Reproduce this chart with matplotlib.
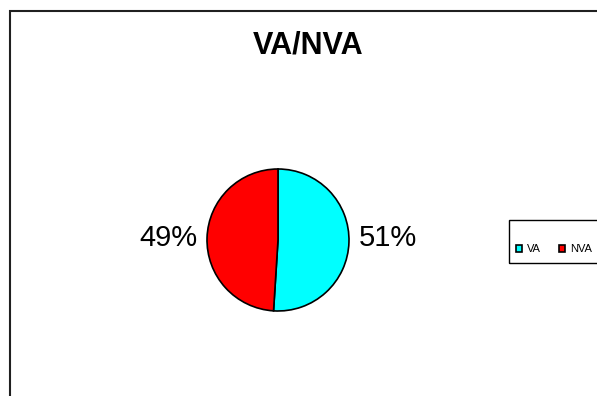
import matplotlib
matplotlib.use("Agg")
import matplotlib.pyplot as plt
from matplotlib.patches import Rectangle

plt.rcParams['font.family'] = ['Liberation Sans', 'DejaVu Sans']

TITEL = "VA/NVA"
KATEGORIEN = ["VA", "NVA"]
WERTE = [51, 49]
FARBEN = ["#00FFFF", "#FF0000"]

W, H = 597, 396
fig = plt.figure(figsize=(W / 100, H / 100), dpi=100)

# Rahmen (nur oben und links sichtbar)
fig.add_artist(Rectangle((9.5 / W, -0.2), 2, 1.2 - 10.5 / H, transform=fig.transFigure,
                         fill=False, edgecolor="#202020", linewidth=1.5))

# Titel
fig.text(308 / W, 1 - 45 / H, TITEL, ha="center", va="center",
         fontsize=22, fontweight="bold")

# Kreisdiagramm
r = 71
ax = fig.add_axes([(278 - r) / W, 1 - (240 + r) / H, 2 * r / W, 2 * r / H])
wedges, texts, autotexts = ax.pie(
    WERTE, colors=FARBEN, startangle=90, counterclock=False,
    autopct="%1.0f%%", pctdistance=1.55,
    wedgeprops=dict(edgecolor="black", linewidth=1.2),
    textprops=dict(fontsize=21),
)
# Beschriftungen auf gleicher Höhe wie im Original
for t in autotexts:
    t.set_y(0.03)
ax.set_xlim(-1, 1)
ax.set_ylim(-1, 1)
ax.set_aspect("equal")
ax.axis("off")

# Legende
fig.add_artist(Rectangle((508.5 / W, 1 - 263 / H), 1, 43 / H, transform=fig.transFigure,
                         fill=False, edgecolor="black", linewidth=1.0))
fig.legend(wedges, KATEGORIEN, loc="center left", bbox_to_anchor=(516 / W, 1 - 249.5 / H),
           ncol=2, frameon=False, fontsize=8, handlelength=0.5, handleheight=0.5,
           handletextpad=0.45, columnspacing=1.7, borderpad=0, borderaxespad=0)

fig.savefig("out.png", dpi=100)
